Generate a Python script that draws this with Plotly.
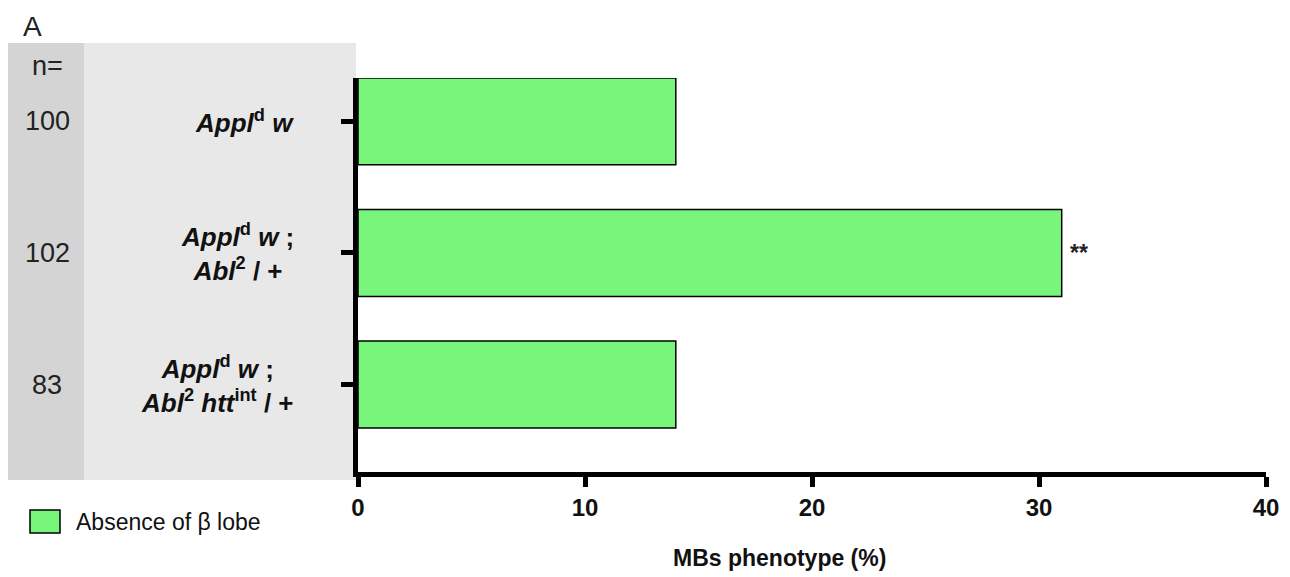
import plotly.graph_objects as go

# ---- data ----
categories = ["Appl d w", "Appl d w ; Abl 2 / +", "Appl d w ; Abl 2 htt int / +"]
category_labels = [
    "<b><i>Appl</i><sup>d</sup> <i>w</i></b>",
    "<b><i>Appl</i><sup>d</sup> <i>w</i> ;<br><i>Abl</i><sup>2</sup> / +</b>",
    "<b><i>Appl</i><sup>d</sup> <i>w</i> ;<br><i>Abl</i><sup>2</sup> <i>htt</i><sup>int</sup> / +</b>",
]
n_values = [100, 102, 83]
values = [14, 31, 14]
significance = ["", "**", ""]
series_name = "Absence of β lobe"
x_ticks = [0, 10, 20, 30, 40]

# ---- style ----
BAR_COLOR = "#78F67B"
REG = "Liberation Sans, Arial, sans-serif"

# page body has an 8px margin; figure sized so the plot lands where the reference has it
OFF = 8
W, H = 1290 - OFF, 577 - OFF
PL, PT, PR, PB = 358, 78, 1266, 472   # plot area in screenshot pixels
L, T = PL - OFF, PT - OFF
R = W - (PR - OFF)
B = H - (PB - OFF)
PW = PR - PL
PH = PB - PT

def px(xp):
    return (xp - PL) / PW

def py(yp):
    return (PB - yp) / PH

fig = go.Figure()
fig.add_trace(go.Bar(
    x=values, y=categories, orientation="h", name=series_name,
    marker=dict(color=BAR_COLOR, line=dict(color="black", width=1.5)),
    width=0.66, showlegend=False,
))

shapes = [
    dict(type="rect", xref="paper", yref="paper", x0=px(7), x1=px(84), y0=py(480), y1=py(43),
         fillcolor="#d4d4d4", line=dict(width=0), layer="below"),
    dict(type="rect", xref="paper", yref="paper", x0=px(84), x1=px(356), y0=py(480), y1=py(43),
         fillcolor="#e8e8e8", line=dict(width=0), layer="below"),
    # legend swatch
    dict(type="rect", xref="paper", yref="paper", x0=px(30), x1=px(60), y0=py(533), y1=py(510),
         fillcolor=BAR_COLOR, line=dict(color="black", width=1.5)),
]

annotations = []
annotations.append(dict(text="A", xref="paper", yref="paper", x=px(21), y=py(OFF + 1),
                        xanchor="left", yanchor="top", showarrow=False,
                        font=dict(family=REG, size=28, color="#222")))
annotations.append(dict(text="n=", xref="paper", yref="paper", x=px(47), y=py(66),
                        xanchor="center", yanchor="middle", showarrow=False,
                        font=dict(family=REG, size=27, color="#222")))
for cat, lab, n, v, s in zip(categories, category_labels, n_values, values, significance):
    annotations.append(dict(text=lab, xref="paper", yref="y", x=px(296), y=cat,
                            xanchor="right", yanchor="middle", align="center", showarrow=False,
                            font=dict(family=REG, size=26, color="#111")))
    annotations.append(dict(text=str(n), xref="paper", yref="y", x=px(47), y=cat,
                            xanchor="center", yanchor="middle", showarrow=False,
                            font=dict(family=REG, size=27, color="#222")))
    if s:
        annotations.append(dict(text="<b>" + s + "</b>", xref="x", yref="y", x=v, y=cat,
                                xanchor="left", yanchor="middle", xshift=6, showarrow=False,
                                font=dict(family=REG, size=23, color="#222")))

annotations.append(dict(text=series_name, xref="paper", yref="paper", x=px(74), y=py(522),
                        xanchor="left", yanchor="middle", showarrow=False,
                        font=dict(family=REG, size=23, color="#111")))
annotations.append(dict(text="<b>MBs phenotype (%)</b>", xref="paper", yref="paper",
                        x=px(779), y=py(558), xanchor="center", yanchor="middle", showarrow=False,
                        font=dict(family=REG, size=23, color="#111")))

fig.update_layout(
    width=W, height=H,
    margin=dict(l=L, r=R, t=T, b=B, autoexpand=False),
    paper_bgcolor="white", plot_bgcolor="white",
    shapes=shapes, annotations=annotations,
    xaxis=dict(range=[0, 40], tickvals=x_ticks, ticktext=["<b>%d</b>" % t for t in x_ticks],
               showline=True, linecolor="black", linewidth=5, ticks="outside", ticklen=10,
               tickwidth=5, tickcolor="black", showgrid=False, zeroline=False,
               tickfont=dict(family=REG, size=24, color="#111")),
    yaxis=dict(type="category", categoryorder="array", categoryarray=categories,
               range=[2.665, -0.33], showline=True, linecolor="black", linewidth=5,
               ticks="outside", ticklen=12, tickwidth=5, tickcolor="black",
               showticklabels=False, showgrid=False, zeroline=False),
    bargap=0.34,
)

fig.write_html("out.html")
